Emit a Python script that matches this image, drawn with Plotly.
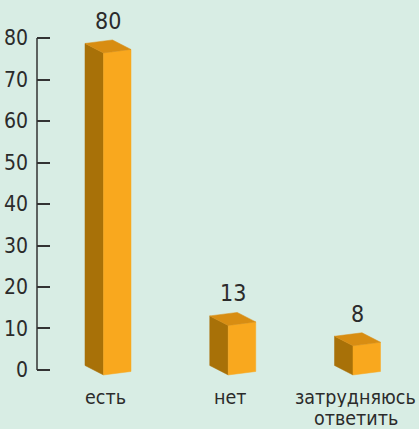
import plotly.graph_objects as go

categories = ["есть", "нет", "затрудняюсь<br>ответить"]
values = [80, 13, 8]
y_ticks = [0, 10, 20, 30, 40, 50, 60, 70, 80]

BG = "#d8ede4"
FRONT = "#f9a81e"
SIDE = "#a87108"
TOP = "#d88d12"
TXT = "#2b2b2b"
FONT = "DejaVu Sans Condensed, Liberation Sans Narrow, sans-serif"

W, H = 419, 429
ML, MR, MT, MB = 37, 0, 0, 41
PW, PH = W - ML - MR, H - MT - MB
X0, X1 = -0.569, 2.493
Y0, Y1 = -4.34, 89.16
px_x = PW / (X1 - X0)   # pixels per x unit
px_y = PH / (Y1 - Y0)   # pixels per y unit

# box style (in pixels, converted to data units)
side_w = 18.5 / px_x
front_l = -4.5 / px_x
front_r = 23.0 / px_x
rise_front = 3.5 / px_y
rise_side = 9.5 / px_y
base = -1.2

fig = go.Figure()
for i, v in enumerate(values):
    xl = i + front_l
    xr = i + front_r
    xs = xl - side_w
    yb = base
    yt = v * 0.98 - 2.0
    front_x = [xl, xr, xr, xl, xl]
    front_y = [yb, yb + rise_front, yt + rise_front, yt, yb]
    side_x = [xs, xl, xl, xs, xs]
    side_y = [yb + rise_side, yb, yt, yt + rise_side, yb + rise_side]
    top_x = [xs, xl, xr, xr - side_w, xs]
    top_y = [yt + rise_side, yt, yt + rise_front, yt + rise_front + rise_side, yt + rise_side]
    for xs_, ys_, c in [(side_x, side_y, SIDE), (front_x, front_y, FRONT), (top_x, top_y, TOP)]:
        fig.add_trace(go.Scatter(x=xs_, y=ys_, fill="toself", fillcolor=c, mode="lines",
                                 line=dict(width=0.5, color=c), hoverinfo="skip", showlegend=False))
    fig.add_annotation(x=i, y=yt + rise_front + rise_side, text=str(v), showarrow=False,
                       yanchor="bottom", yshift=4, font=dict(size=23, color=TXT, family=FONT))
    # category label, one annotation per line
    for k, line in enumerate(categories[i].split("<br>")):
        fig.add_annotation(x=i, y=0, yref="paper", text=line, showarrow=False,
                           yanchor="middle", height=20, borderpad=0,
                           xshift=-2, yshift=-9 - 21 * k,
                           font=dict(size=19.5, color=TXT, family=FONT))

# y axis line
fig.add_shape(type="line", xref="paper", yref="y", x0=0, x1=0, y0=0, y1=80,
              line=dict(color="#333333", width=1.5))

fig.update_layout(
    width=W, height=H,
    margin=dict(l=ML, r=MR, t=MT, b=MB, autoexpand=False),
    paper_bgcolor=BG, plot_bgcolor=BG,
    showlegend=False,
    xaxis=dict(range=[X0, X1], showticklabels=False, showgrid=False,
               zeroline=False, showline=False, ticks="", fixedrange=True),
    yaxis=dict(range=[Y0, Y1], tickvals=y_ticks, showgrid=False, zeroline=False,
               showline=False, ticks="inside", ticklen=13, tickwidth=1.5, tickcolor="#333333",
               ticklabelstandoff=8,
               tickfont=dict(size=21, color=TXT, family=FONT), fixedrange=True),
)

fig.write_html("out.html", config={"displayModeBar": False},
               post_script="document.body.style.margin='0';document.body.style.overflow='hidden';")
